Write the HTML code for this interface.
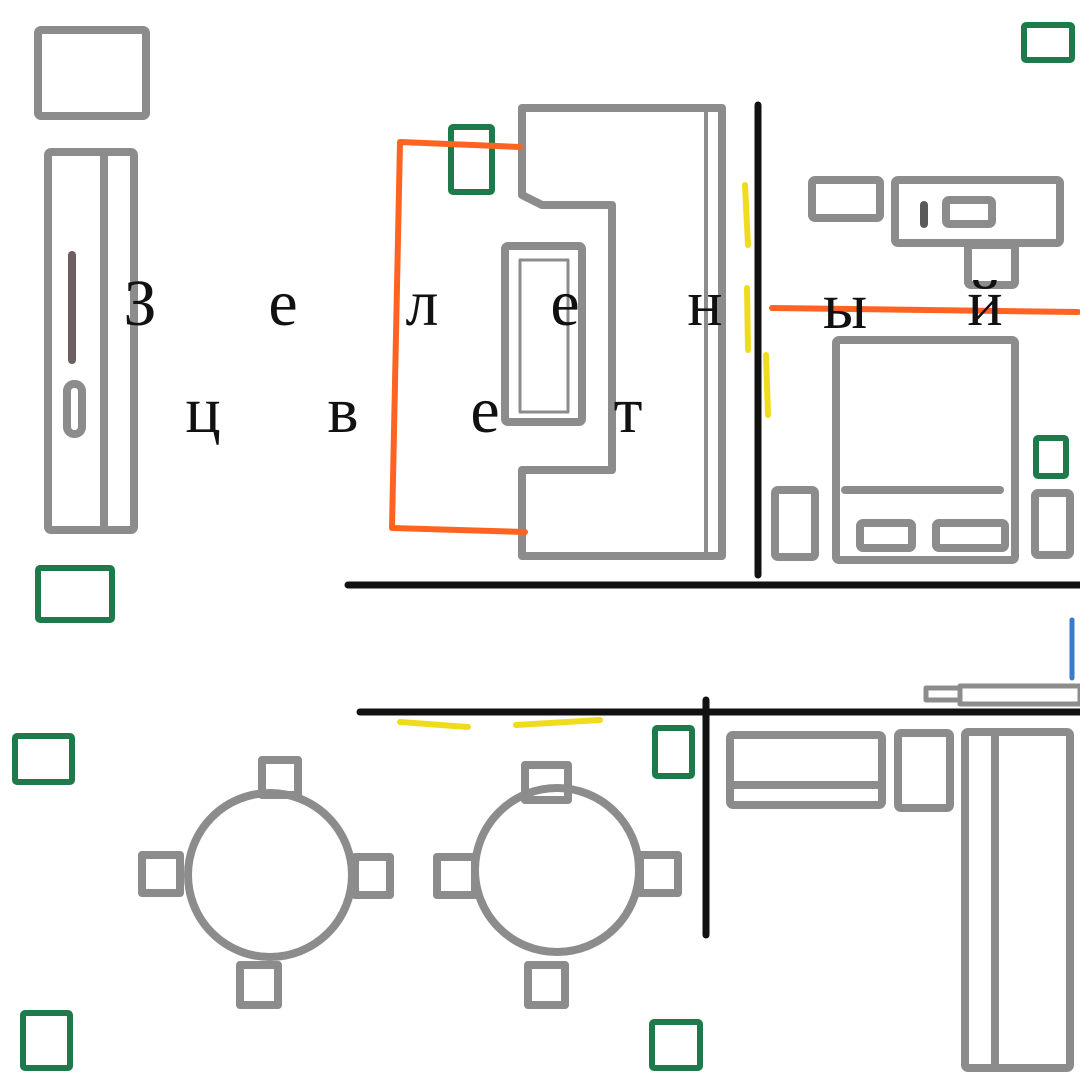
<!DOCTYPE html>
<html><head><meta charset="utf-8"><style>
html,body{margin:0;padding:0;background:#fff}
svg{display:block}
text{font-family:"Liberation Serif",serif;font-size:66px;fill:#111}
</style></head><body>
<svg width="1080" height="1080" viewBox="0 0 1080 1080" xmlns="http://www.w3.org/2000/svg">
<g fill="none" stroke-linecap="round" stroke-linejoin="round">
<g stroke="#8c8c8c" stroke-width="8">
<rect x="38" y="30" width="108" height="86" rx="3"/>
<rect x="48" y="152" width="86" height="378" rx="3"/>
<line x1="104" y1="152" x2="104" y2="530"/>
<rect x="67" y="384" width="15" height="50" rx="7"/>
<path d="M522 108 L722 108 L722 556 L522 556 L522 470 L612 470 L612 205 L542 205 L522 195 Z"/>
<line x1="706" y1="110" x2="706" y2="554" stroke-width="4"/>
<rect x="505" y="246" width="77" height="176" rx="3"/>
<rect x="520" y="260" width="48" height="152" stroke-width="3"/>
<rect x="812" y="180" width="68" height="38" rx="3"/>
<rect x="895" y="180" width="165" height="63" rx="3"/>
<rect x="946" y="200" width="46" height="24" rx="3"/>
<rect x="968" y="245" width="47" height="40" rx="3"/>
<rect x="836" y="340" width="179" height="220" rx="3"/>
<line x1="845" y1="490" x2="1000" y2="490"/>
<rect x="860" y="523" width="52" height="25" rx="3"/>
<rect x="936" y="523" width="69" height="25" rx="3"/>
<rect x="775" y="490" width="40" height="67" rx="3"/>
<rect x="1035" y="493" width="35" height="62" rx="3"/>
<rect x="730" y="735" width="152" height="70" rx="3"/>
<line x1="732" y1="785" x2="880" y2="785"/>
<rect x="898" y="733" width="52" height="75" rx="3"/>
<rect x="965" y="732" width="105" height="336" rx="3"/>
<line x1="995" y1="735" x2="995" y2="1066"/>
<rect x="926" y="688" width="34" height="12" stroke-width="5"/>
<rect x="960" y="686" width="120" height="18" stroke-width="5"/>
<circle cx="270" cy="875" r="82"/>
<rect x="262" y="760" width="36" height="35"/>
<rect x="142" y="855" width="38" height="38"/>
<rect x="355" y="857" width="35" height="38"/>
<rect x="240" y="965" width="38" height="40"/>
<circle cx="557" cy="870" r="82"/>
<rect x="525" y="765" width="43" height="35"/>
<rect x="437" y="857" width="38" height="38"/>
<rect x="640" y="855" width="38" height="38"/>
<rect x="528" y="965" width="37" height="40"/>
</g>
<line x1="72" y1="255" x2="72" y2="360" stroke="#6b5f5f" stroke-width="8"/>
<line x1="924" y1="205" x2="924" y2="224" stroke="#5a5a5a" stroke-width="8"/>
<g stroke="#1e7a4a" stroke-width="6">
<rect x="38" y="568" width="74" height="52" rx="2"/>
<rect x="451" y="127" width="41" height="65" rx="2"/>
<rect x="1036" y="438" width="30" height="38" rx="2"/>
<rect x="1024" y="25" width="48" height="35" rx="2"/>
<rect x="15" y="736" width="57" height="46" rx="2"/>
<rect x="655" y="728" width="37" height="48" rx="2"/>
<rect x="23" y="1013" width="47" height="55" rx="2"/>
<rect x="652" y="1022" width="48" height="46" rx="2"/>
</g>
<g stroke="#ff6322" stroke-width="6">
<path d="M520 147 L400 142 L392 528 L525 532"/>
<line x1="772" y1="308" x2="1078" y2="312"/>
</g>
<g stroke="#111" stroke-width="7">
<line x1="758" y1="105" x2="758" y2="575"/>
<line x1="348" y1="585" x2="1080" y2="585"/>
<line x1="360" y1="712" x2="1080" y2="712"/>
<line x1="706" y1="700" x2="706" y2="935"/>
</g>
<g stroke="#f0dc1e" stroke-width="6">
<line x1="745" y1="185" x2="748" y2="245"/>
<line x1="747" y1="288" x2="748" y2="350"/>
<line x1="766" y1="355" x2="768" y2="415"/>
<line x1="400" y1="722" x2="468" y2="727"/>
<line x1="516" y1="725" x2="600" y2="720"/>
</g>
<line x1="1072" y1="620" x2="1072" y2="678" stroke="#3a7bc8" stroke-width="5"/>
</g>
<text x="140" y="325" text-anchor="middle">З</text>
<text x="283" y="325" text-anchor="middle">е</text>
<text x="422" y="325" text-anchor="middle">л</text>
<text x="565" y="325" text-anchor="middle">е</text>
<text x="705" y="325" text-anchor="middle">н</text>
<text x="845" y="328" text-anchor="middle">ы</text>
<text x="985" y="325" text-anchor="middle">й</text>
<text x="203" y="432" text-anchor="middle">ц</text>
<text x="343" y="432" text-anchor="middle">в</text>
<text x="485" y="432" text-anchor="middle">е</text>
<text x="628" y="432" text-anchor="middle">т</text>
</svg>
</body></html>
